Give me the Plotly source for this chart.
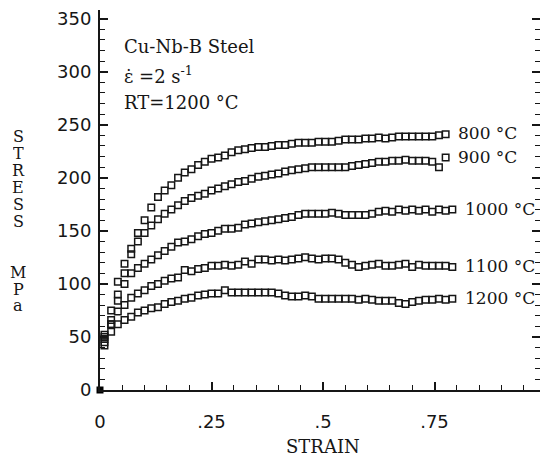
import plotly.graph_objects as go

# ---- data ----
strain = [0.010, 0.025, 0.040, 0.055, 0.070, 0.085, 0.100, 0.115, 0.130, 0.145,
          0.160, 0.175, 0.190, 0.205, 0.220, 0.235, 0.250, 0.265, 0.280, 0.295,
          0.310, 0.325, 0.340, 0.355, 0.370, 0.385, 0.400, 0.415, 0.430, 0.445,
          0.460, 0.475, 0.490, 0.505, 0.520, 0.535, 0.550, 0.565, 0.580, 0.595,
          0.610, 0.625, 0.640, 0.655, 0.670, 0.685, 0.700, 0.715, 0.730, 0.745,
          0.760, 0.775, 0.790]

stress_800 = [50, 75, 102, 119, 133, 148, 160, 172, 182, 188,
              193, 200, 205, 208, 212, 215, 218, 219, 221, 224,
              226, 227, 228, 229, 229, 230, 231, 231, 232, 233,
              233, 233, 234, 234, 234, 235, 236, 236, 236, 237,
              237, 238, 237, 238, 239, 239, 239, 239, 239, 239,
              240, 241, None]

stress_900 = [48, 66, 90, 110, 128, 140, 148, 155, 161, 166,
              170, 174, 178, 181, 183, 185, 188, 190, 192, 194,
              196, 197, 199, 201, 202, 203, 204, 206, 207, 208,
              209, 210, 210, 210, 210, 210, 210, 211, 212, 213,
              214, 215, 215, 216, 216, 217, 216, 216, 216, 215,
              210, 219, None]

stress_1000 = [45, 62, 84, 100, 110, 115, 119, 123, 127, 131,
               135, 139, 140, 142, 145, 147, 148, 150, 152, 152,
               153, 156, 157, 158, 159, 160, 161, 162, 163, 165,
               166, 166, 166, 166, 167, 166, 165, 165, 165, 165,
               166, 168, 169, 168, 170, 169, 170, 169, 170, 168,
               170, 169, 170]

stress_1100 = [52, 62, 74, 80, 87, 91, 94, 98, 100, 103,
               105, 106, 113, 112, 114, 115, 117, 117, 118, 117,
               118, 121, 119, 123, 123, 122, 123, 122, 123, 124,
               125, 124, 123, 124, 124, 123, 120, 118, 116, 117,
               118, 119, 117, 117, 118, 119, 116, 118, 117, 117,
               117, 117, 116]

stress_1200 = [42, 55, 62, 66, 69, 73, 75, 77, 78, 81,
               83, 84, 86, 87, 89, 90, 91, 91, 94, 92,
               92, 92, 92, 92, 92, 92, 91, 89, 88, 88,
               89, 88, 86, 86, 86, 86, 86, 86, 85, 86,
               85, 84, 84, 84, 82, 81, 83, 84, 85, 85,
               86, 85, 86]

series_names = ["800 °C", "900 °C", "1000 °C", "1100 °C", "1200 °C"]
series_values = [stress_800, stress_900, stress_1000, stress_1100, stress_1200]

origin_strain = [0]
origin_stress = [0]

x_tick_vals = [0, 0.25, 0.5, 0.75]
x_tick_text = ["0", ".25", ".5", ".75"]
x_end_val = 1
x_end_text = "1"
y_tick_vals = [0, 50, 100, 150, 200, 250, 300, 350]
y_tick_text = ["0", "50", "100", "150", "200", "250", "300", "350"]

info_lines = ["Cu-Nb-B Steel", "ε̇ =2 s<sup>-1</sup>", "RT=1200 °C"]
x_title = "STRAIN"
y_title_letters = ["S", "T", "R", "E", "S", "S", "", "", "M", "P", "a"]

# ---- figure geometry (page has an 8px body margin) ----
W, H = 540, 449
ML, MR, MT, MB = 92, 8, 0, 67
PW = W - ML - MR
PH = H - MT - MB
PX_PER_MPA = 1.0667
PX_PER_STRAIN = 446.0
YMAX = PH / PX_PER_MPA
XMAX = PW / PX_PER_STRAIN
OFF = 8  # page offset of the figure


def px_to_paper_x(wx):
    return (wx - OFF - ML) / PW


def px_to_paper_y(wy):
    return (MT + PH - (wy - OFF)) / PH


def px_to_stress(wy):
    return (MT + PH - (wy - OFF)) / PX_PER_MPA


SERIF = "DejaVu Serif"
SANS = "DejaVu Sans"
INK = "#161616"

fig = go.Figure()

for name, vals in zip(series_names, series_values):
    fig.add_trace(go.Scatter(
        x=strain, y=vals, mode="markers", name=name, showlegend=False,
        cliponaxis=False,
        marker=dict(symbol="square-open", size=6.5, color=INK,
                    line=dict(width=1.5, color=INK)),
    ))
    pts = [(s, v) for s, v in zip(strain, vals) if v is not None]
    ls, lv = pts[-1]
    fig.add_annotation(x=ls + 0.024, y=lv + 1, text=name, showarrow=False,
                       xanchor="left", yanchor="middle",
                       font=dict(family=SERIF, size=17, color=INK))

fig.add_trace(go.Scatter(
    x=origin_strain, y=origin_stress, mode="markers", showlegend=False,
    cliponaxis=False,
    marker=dict(symbol="square", size=7, color="#000"),
))

for i, line in enumerate(info_lines):
    fig.add_annotation(x=0.05, y=px_to_stress(45 + i * 28), text=line,
                       showarrow=False, xanchor="left", yanchor="middle",
                       font=dict(family=SERIF, size=18, color=INK))

# end label of the strain axis (sits at the cut right edge)
fig.add_annotation(xref="paper", yref="paper",
                   x=x_end_val * PX_PER_STRAIN / PW, y=px_to_paper_y(422),
                   text=x_end_text, showarrow=False, xanchor="center",
                   yanchor="middle", font=dict(family=SANS, size=18, color=INK))

fig.add_annotation(xref="paper", yref="paper", x=px_to_paper_x(323),
                   y=px_to_paper_y(447), text=x_title, showarrow=False,
                   xanchor="center", yanchor="middle",
                   font=dict(family=SERIF, size=18, color=INK))

for i, ch in enumerate(y_title_letters):
    if not ch:
        continue
    fig.add_annotation(xref="paper", yref="paper", x=px_to_paper_x(18),
                       y=px_to_paper_y(135 + i * 17), text=ch, showarrow=False,
                       xanchor="center", yanchor="middle", height=16,
                       font=dict(family=SERIF, size=16, color=INK))

fig.update_xaxes(
    range=[0, XMAX], tickvals=x_tick_vals, ticktext=x_tick_text,
    ticks="inside", ticklen=8, tickwidth=1.5, tickcolor=INK,
    showline=True, linewidth=2, linecolor=INK, mirror=False,
    showgrid=False, zeroline=False, ticklabelstandoff=14,
    ticklabeloverflow="allow",
    tickfont=dict(family=SANS, size=18, color=INK),
    minor=dict(tick0=0, dtick=0.05, ticks="inside", ticklen=5,
               tickwidth=1.2, tickcolor=INK, showgrid=False),
)
fig.update_yaxes(
    range=[0, YMAX], tickvals=y_tick_vals, ticktext=y_tick_text,
    ticks="inside", ticklen=8, tickwidth=1.5, tickcolor=INK,
    showline=True, linewidth=2, linecolor=INK, mirror="ticks",
    showgrid=False, zeroline=False, ticklabelstandoff=3,
    ticklabeloverflow="allow",
    tickfont=dict(family=SANS, size=18, color=INK),
    minor=dict(tick0=0, dtick=10, ticks="inside", ticklen=5,
               tickwidth=1.2, tickcolor=INK, showgrid=False),
)

fig.update_layout(
    width=W, height=H, autosize=False,
    margin=dict(l=ML, r=MR, t=MT, b=MB, pad=0),
    paper_bgcolor="white", plot_bgcolor="white",
    showlegend=False,
)

fig.write_html("out.html")
